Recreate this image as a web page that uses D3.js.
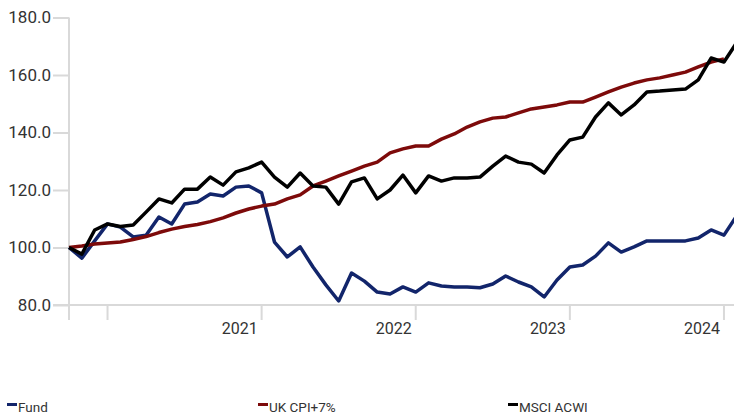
<!DOCTYPE html>
<html>
  <head>
    <title>Fund vs UK CPI+7% vs MSCI ACWI</title>
    <script src="https://cdn.jsdelivr.net/npm/d3@7"></script>
    <style>
      body { margin: 0; background: #fff; }
      text { font-family: Roboto, "Liberation Sans", sans-serif; fill: #333; }
    </style>
  </head>

  <body>
    <svg width="734" height="414"></svg>

    <script type="text/javascript">
      // month ends, Sep 2020 .. Jan 2025
      var months = [
        "2020-09", "2020-10", "2020-11", "2020-12",
        "2021-01", "2021-02", "2021-03", "2021-04", "2021-05", "2021-06", "2021-07", "2021-08", "2021-09", "2021-10", "2021-11", "2021-12",
        "2022-01", "2022-02", "2022-03", "2022-04", "2022-05", "2022-06", "2022-07", "2022-08", "2022-09", "2022-10", "2022-11", "2022-12",
        "2023-01", "2023-02", "2023-03", "2023-04", "2023-05", "2023-06", "2023-07", "2023-08", "2023-09", "2023-10", "2023-11", "2023-12",
        "2024-01", "2024-02", "2024-03", "2024-04", "2024-05", "2024-06", "2024-07", "2024-08", "2024-09", "2024-10", "2024-11", "2024-12",
        "2025-01"
      ];

      var fund = [
        100, 96.3, 102.3, 108.2, 107.1, 103.7, 104.3, 110.6, 108.2, 115.1,
        115.8, 118.6, 117.9, 121.0, 121.4, 119.0, 101.9, 96.7, 100.2, 93.2,
        87.0, 81.4, 91.1, 88.3, 84.5, 83.8, 86.3, 84.5, 87.7, 86.6,
        86.3, 86.3, 86.0, 87.3, 90.1, 88.0, 86.3, 82.8, 88.7, 93.2,
        93.9, 97.0, 101.6, 98.4, 100.2, 102.3, 102.3, 102.3, 102.3, 103.3,
        106.1, 104.3, 111.1
      ];

      var ukCpi = [
        100, 100.5, 101.2, 101.6, 101.9, 102.8, 103.8, 105.2, 106.4, 107.3,
        108.0, 109.0, 110.3, 112.0, 113.4, 114.4, 115.1, 116.9, 118.3, 121.4,
        123.1, 124.9, 126.6, 128.3, 129.7, 132.9, 134.3, 135.3, 135.3, 137.7,
        139.5, 141.9, 143.7, 145.0, 145.4, 146.8, 148.2, 148.9, 149.6, 150.6,
        150.6, 152.3, 154.1, 155.8, 157.2, 158.3, 159.0, 160.0, 161.0, 162.8,
        164.5, 165.6, null
      ];

      var msciAcwi = [
        100, 97.7, 106.1, 108.2, 107.3, 107.8, 112.3, 116.9, 115.5, 120.3,
        120.3, 124.5, 121.7, 126.3, 127.7, 129.7, 124.5, 121.0, 125.9, 121.4,
        121.0, 115.1, 122.8, 124.2, 116.9, 120.0, 125.2, 119.0, 124.9, 123.1,
        124.2, 124.2, 124.5, 128.3, 131.8, 129.7, 129.0, 125.9, 132.2, 137.4,
        138.4, 145.4, 150.3, 146.1, 149.6, 154.1, 154.4, 154.8, 155.1, 158.3,
        165.9, 164.5, 171.3
      ];

      var yTicks = [80, 100, 120, 140, 160, 180];
      var xTickMonths = ["2020-12", "2021-12", "2022-12", "2023-12", "2024-12"];
      var xTickLabels = ["", "2021", "2022", "2023", "2024"];

      var series = [
        { name: "Fund", values: fund, color: "#12256b" },
        { name: "UK CPI+7%", values: ukCpi, color: "#7d0a0a" },
        { name: "MSCI ACWI", values: msciAcwi, color: "#000000" }
      ];

      var svg = d3.select("svg");
      var gridColor = "#d9d9d9";

      var xScale = d3.scalePoint().domain(months).range([69, 736.8]);
      var yScale = d3.scaleLinear().domain([80, 180]).range([305, 17.5]);

      // y axis
      var yAxis = svg
        .append("g")
        .attr("transform", "translate(69,0)")
        .call(d3.axisLeft(yScale).tickValues(yTicks).tickSize(16).tickPadding(2).tickFormat(d3.format(".1f")));
      yAxis.select(".domain").remove();
      yAxis.selectAll("line").attr("stroke", gridColor).attr("stroke-width", 2);
      yAxis.selectAll("text").style("font-size", "17px").attr("fill", "#333");

      svg
        .append("line")
        .attr("x1", 69)
        .attr("x2", 69)
        .attr("y1", yScale(180))
        .attr("y2", 320)
        .attr("stroke", gridColor)
        .attr("stroke-width", 2);

      // x axis
      svg
        .append("line")
        .attr("x1", 53)
        .attr("x2", 734)
        .attr("y1", yScale(80))
        .attr("y2", yScale(80))
        .attr("stroke", gridColor)
        .attr("stroke-width", 2);

      var xTicks = svg.append("g");
      xTickMonths.forEach(function (m, i) {
        xTicks
          .append("line")
          .attr("x1", xScale(m))
          .attr("x2", xScale(m))
          .attr("y1", yScale(80))
          .attr("y2", 320)
          .attr("stroke", gridColor)
          .attr("stroke-width", 2);
        xTicks
          .append("text")
          .attr("x", xScale(m) - 4)
          .attr("y", 334)
          .attr("text-anchor", "end")
          .style("font-size", "16px")
          .text(xTickLabels[i]);
      });

      // lines
      series.forEach(function (s) {
        var lineGenerator = d3
          .line()
          .defined(function (d) { return d != null; })
          .x(function (d, i) { return xScale(months[i]); })
          .y(function (d) { return yScale(d); });
        svg
          .append("path")
          .attr("fill", "none")
          .attr("stroke", s.color)
          .attr("stroke-width", 3.5)
          .attr("stroke-linejoin", "round")
          .attr("d", lineGenerator(s.values));
      });

      // legend
      var legendX = [7, 258, 508];
      series.forEach(function (s, i) {
        svg
          .append("rect")
          .attr("x", legendX[i])
          .attr("y", 403)
          .attr("width", 10)
          .attr("height", 3)
          .attr("fill", s.color);
        svg
          .append("text")
          .attr("x", legendX[i] + 11)
          .attr("y", 412)
          .style("font-size", "13.5px")
          .text(s.name);
      });
    </script>
  </body>
</html>
